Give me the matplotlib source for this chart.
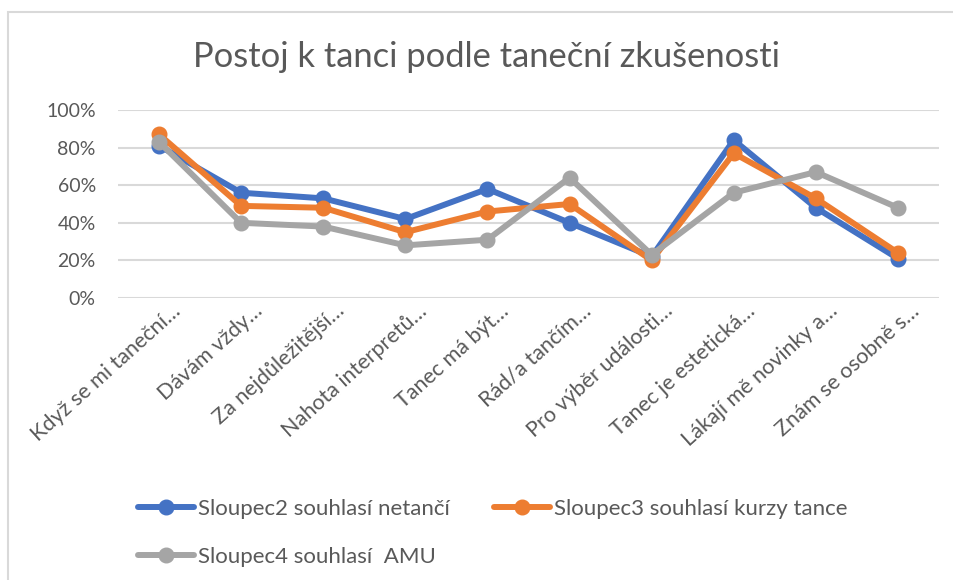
import matplotlib.pyplot as plt
from matplotlib.patches import Rectangle
from matplotlib.ticker import PercentFormatter
from matplotlib.transforms import ScaledTranslation

plt.rcParams['font.family'] = ['Lato', 'DejaVu Sans']

categories = ["Když se mi taneční…", "Dávám vždy…", "Za nejdůležitější…",
              "Nahota interpretů…", "Tanec má být…", "Rád/a tančím…",
              "Pro výběr události…", "Tanec je estetická…",
              "Lákají mě novinky a…", "Znám se osobně s…"]

netanci = [0.81, 0.56, 0.53, 0.42, 0.58, 0.40, 0.22, 0.84, 0.48, 0.21]
kurzy = [0.87, 0.49, 0.48, 0.35, 0.46, 0.50, 0.20, 0.77, 0.53, 0.24]
amu = [0.83, 0.40, 0.38, 0.28, 0.31, 0.64, 0.23, 0.56, 0.67, 0.48]

names = ["Sloupec2 souhlasí netančí", "Sloupec3 souhlasí kurzy tance",
         "Sloupec4 souhlasí  AMU"]
colors = ["#4472C4", "#ED7D31", "#A5A5A5"]
text_col = "#595959"

fig = plt.figure(figsize=(9.54, 5.80), dpi=100)
ax = fig.add_axes([118/954, 1-298/580, (939-118)/954, 188/580])

# chart border (cut off at right and bottom)
fig.patches.append(Rectangle((8/954, -0.1), 1.2, 1.1 - 12/580, transform=fig.transFigure,
                             fill=False, edgecolor="#D9D9D9", linewidth=1.5))

x = list(range(len(categories)))
for ys, name, c in zip([netanci, kurzy, amu], names, colors):
    ax.plot(x, ys, color=c, linewidth=4.3, marker="o", markersize=10.5,
            label=name, solid_capstyle="round", solid_joinstyle="round")

ax.set_xlim(-0.5, len(categories) - 0.5)
ax.set_ylim(0, 1)
ax.set_yticks([0, 0.2, 0.4, 0.6, 0.8, 1.0])
ax.yaxis.set_major_formatter(PercentFormatter(1.0, decimals=0))
ax.grid(axis="y", color="#D9D9D9", linewidth=1.5)
ax.set_axisbelow(True)
for s in ax.spines.values():
    s.set_visible(False)
ax.tick_params(axis="y", length=0, pad=16, labelsize=14, labelcolor=text_col)
ax.tick_params(axis="x", length=0, pad=2, labelsize=15.5, labelcolor=text_col)
ax.set_xticks(x)
ax.set_xticklabels(categories, rotation=42, ha="right", rotation_mode="anchor")
shift = ScaledTranslation(12/100, 0, fig.dpi_scale_trans)
for lbl in ax.get_xticklabels():
    lbl.set_transform(lbl.get_transform() + shift)

fig.text(487/954, 1-57/580, "Postoj k tanci podle taneční zkušenosti",
         ha="center", va="center", fontsize=24.8, color=text_col)

handles, labels = ax.get_legend_handles_labels()
order = [0, 2, 1]
fig.legend([handles[i] for i in order], [labels[i] for i in order], ncol=2,
           loc="center left", bbox_to_anchor=(118/954, 1-533/580), frameon=False,
           fontsize=16, labelcolor=text_col, handlelength=2.5,
           handletextpad=0.2, columnspacing=2.0, labelspacing=1.25,
           numpoints=1)

fig.savefig("out.png", dpi=100)
